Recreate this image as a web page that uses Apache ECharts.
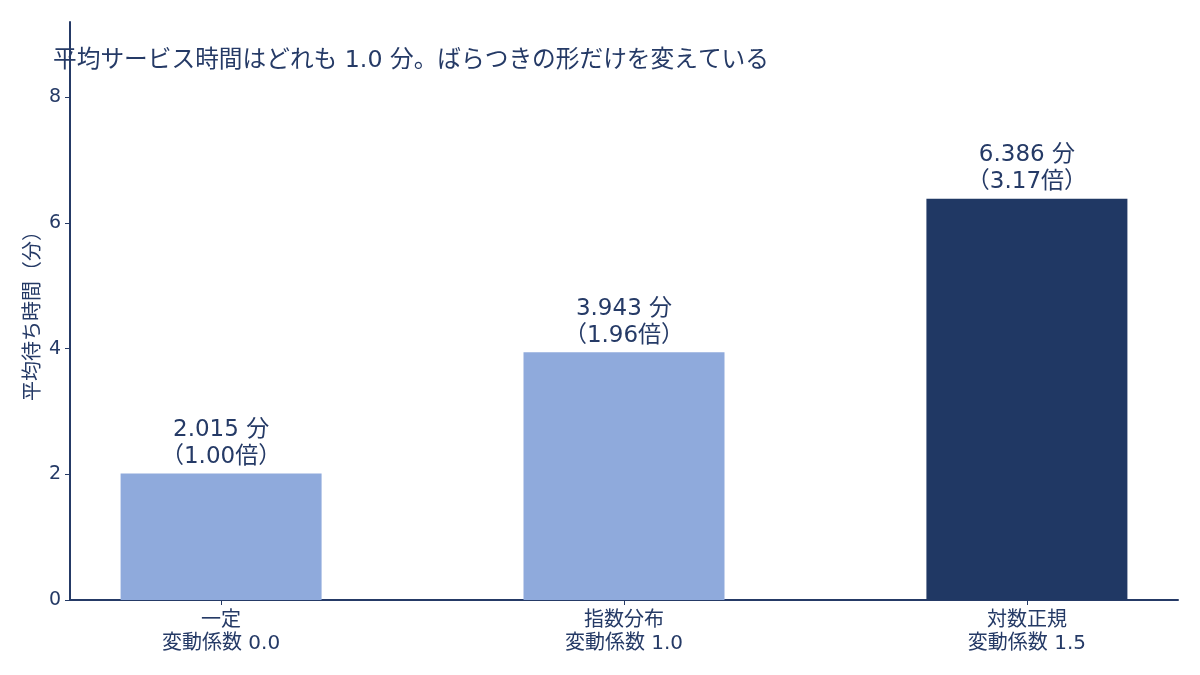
<!DOCTYPE html>
<html><head><meta charset="utf-8">
<script src="https://cdn.jsdelivr.net/npm/echarts@6/dist/echarts.min.js"></script>
<style>html,body{margin:0;padding:0;background:#fff}#c{width:1200px;height:675px}</style>
</head><body><div id="c"></div>
<script>
const categories = ['一定\n変動係数 0.0', '指数分布\n変動係数 1.0', '対数正規\n変動係数 1.5'];
const waitTimes = [2.015, 3.943, 6.386];
const ratios = [1.00, 1.96, 3.17];
const barColors = ['#8faadc', '#8faadc', '#203864'];
const yTicks = [0, 2, 4, 6, 8];
const titleText = '平均サービス時間はどれも 1.0 分。ばらつきの形だけを変えている';
const yName = '平均待ち時間（分）';

const txt = '#253a66';
const font = '"DejaVu Sans", "Noto Sans CJK JP", sans-serif';
const chart = echarts.init(document.getElementById('c'), null, {renderer: 'canvas'});
chart.setOption({
  backgroundColor: '#fff',
  animation: false,
  textStyle: {fontFamily: font, color: txt},
  title: {text: titleText, left: 48, top: 44, textStyle: {fontFamily: font, fontSize: 23.7, fontWeight: 'normal', color: txt}},
  grid: {left: 70, right: 22, top: 22, bottom: 75},
  xAxis: {
    type: 'value', min: -0.375, max: 2.375,
    splitLine: {show: false},
    axisLine: {show: true, onZero: false, lineStyle: {color: txt, width: 2}},
    axisTick: {show: true, customValues: [0, 1, 2], length: 5, lineStyle: {color: txt, width: 1}},
    axisLabel: {customValues: [0, 1, 2], formatter: v => categories[Math.round(v)] || '', color: txt, fontSize: 20, lineHeight: 23, margin: 9, fontFamily: font}
  },
  yAxis: {
    type: 'value', min: 0, max: 9.2,
    name: yName, nameLocation: 'middle', nameGap: 26, nameRotate: 90, nameMoveOverlap: false,
    nameTextStyle: {fontSize: 20, color: txt, fontFamily: font},
    splitLine: {show: false},
    axisLine: {show: true, onZero: false, lineStyle: {color: txt, width: 2}},
    axisTick: {show: true, customValues: yTicks, length: 5, lineStyle: {color: txt, width: 1}},
    axisLabel: {customValues: yTicks, color: txt, fontSize: 19, margin: 9, fontFamily: font}
  },
  series: [{
    type: 'bar',
    barWidth: 201,
    data: waitTimes.map((v, i) => ({value: [i, v], itemStyle: {color: barColors[i]}})),
    label: {
      show: true, position: 'top', distance: 3,
      formatter: p => waitTimes[p.dataIndex].toFixed(3) + ' 分\n（' + ratios[p.dataIndex].toFixed(2) + '倍）',
      fontSize: 23, lineHeight: 27, color: txt, fontFamily: font
    }
  }]
});
</script></body></html>
